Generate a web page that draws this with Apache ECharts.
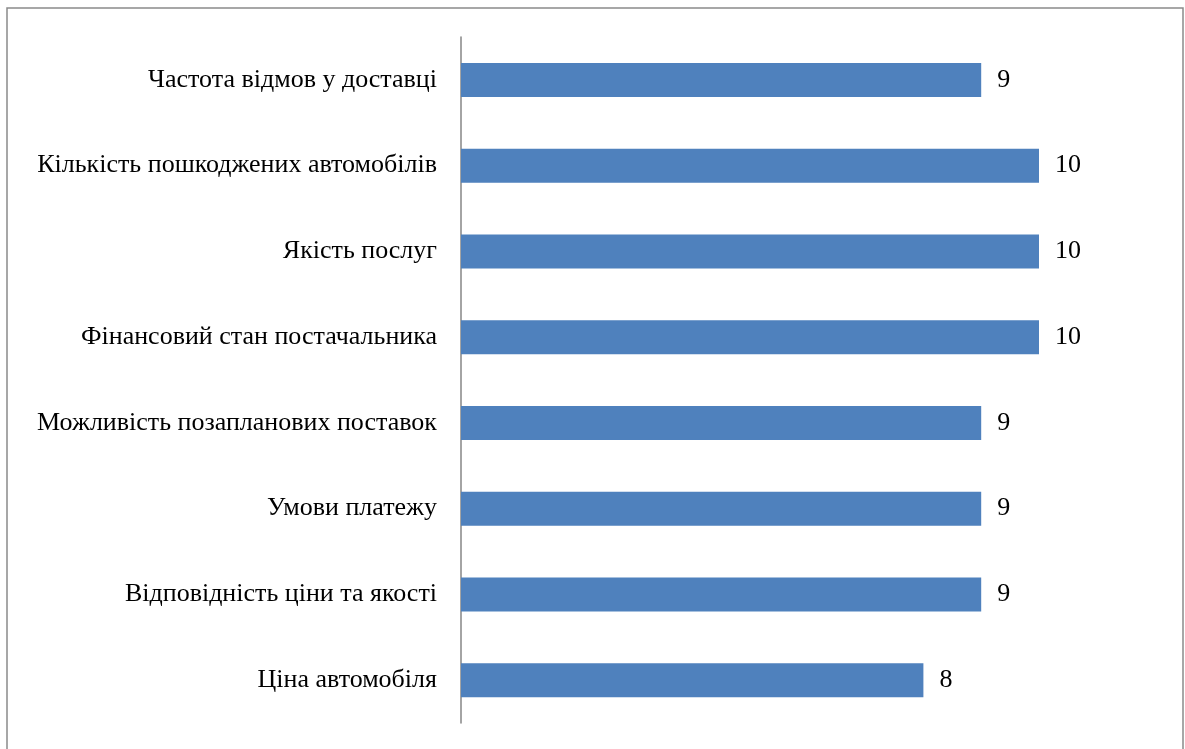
<!DOCTYPE html>
<html lang="uk">
<head>
    <meta charset="UTF-8">
    <title>Критерії вибору постачальника</title>
    <script src="https://cdn.jsdelivr.net/npm/echarts@6/dist/echarts.min.js"></script>
</head>
<body style="margin:0;background:#fff">
<div id="chart" style="width:1185px;height:749px"></div>
<script>
    // категорії (зверху вниз) та оцінки
    const categories = [
        'Частота відмов у доставці',
        'Кількість пошкоджених автомобілів',
        'Якість послуг',
        'Фінансовий стан постачальника',
        'Можливість позапланових поставок',
        'Умови платежу',
        'Відповідність ціни та якості',
        'Ціна автомобіля'
    ];
    const scores = [9, 10, 10, 10, 9, 9, 9, 8];

    const font = '"Liberation Serif", "Times New Roman", serif';

    let myChart = echarts.init(document.getElementById('chart'));
    let option = {
        animation: false,
        graphic: [{
            type: 'rect',
            shape: {x: 7, y: 8, width: 1176, height: 760},
            style: {fill: 'none', stroke: '#8a8a8a', lineWidth: 1.5},
            silent: true
        }],
        grid: {left: 461, right: 146, top: 37, bottom: 26},
        xAxis: {
            type: 'value',
            min: 0,
            max: 10,
            show: false
        },
        yAxis: {
            type: 'category',
            inverse: true,
            data: categories,
            axisLine: {lineStyle: {color: '#868686', width: 1.5}},
            axisTick: {show: false},
            axisLabel: {
                margin: 24,
                color: '#000',
                fontFamily: font,
                fontSize: 26
            }
        },
        series: [{
            type: 'bar',
            data: scores,
            barWidth: 34,
            itemStyle: {color: '#4F81BD'},
            label: {
                show: true,
                position: 'right',
                distance: 16,
                color: '#000',
                fontFamily: font,
                fontSize: 26
            }
        }]
    };
    myChart.setOption(option);
</script>
</body>
</html>
